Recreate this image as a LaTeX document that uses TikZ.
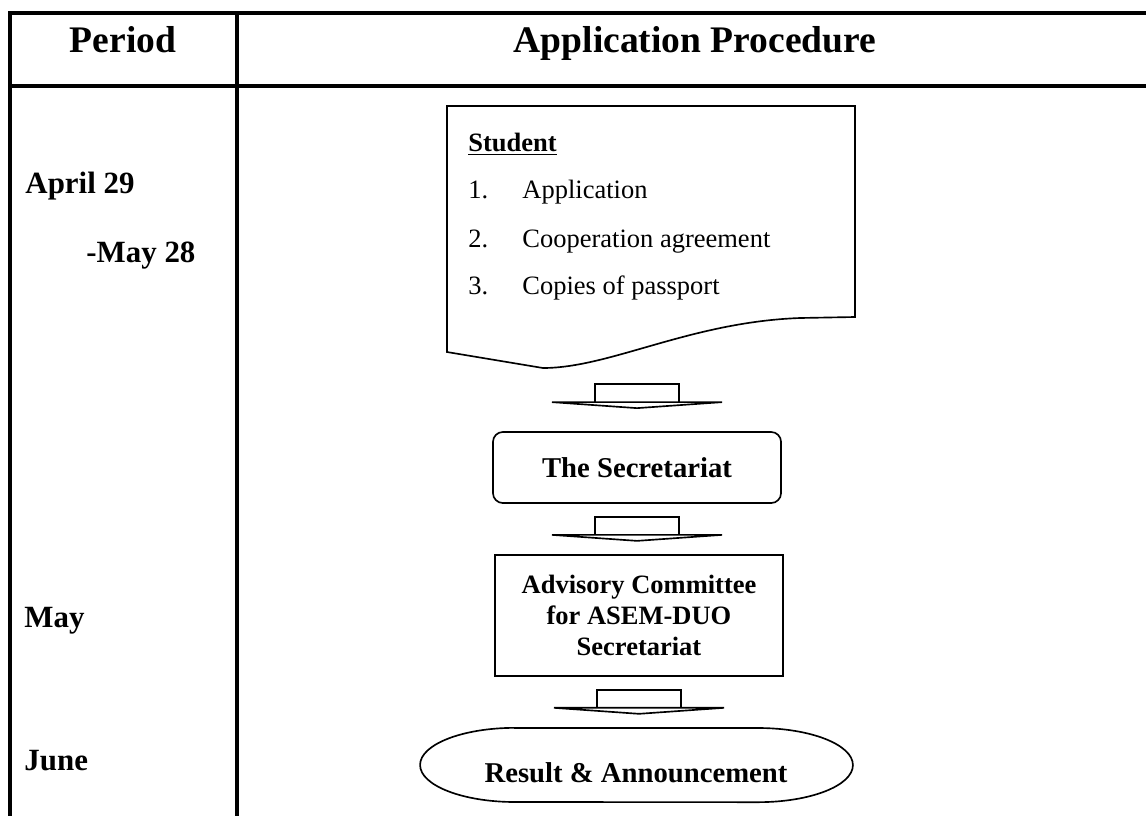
\documentclass[tikz,border=0pt]{standalone}
\usepackage{fontspec}
\setmainfont{Liberation Serif}
\usetikzlibrary{calc}
\usetikzlibrary{positioning}

\tikzset{
  grid line/.style={line width=1.4pt},
  shape line/.style={line width=0.75pt},
  blockarrow/.style={line width=0.75pt, line join=miter},
  flowbox/.style={draw, shape line, inner sep=0pt, align=center, font=\fontsize{13}{15}\selectfont\bfseries},
  datelabel/.style={anchor=base west, inner sep=0pt, font=\fontsize{14}{16}\selectfont\bfseries},
  headlabel/.style={anchor=base, inner sep=0pt, font=\fontsize{17}{20}\selectfont\bfseries},
  itemlabel/.style={anchor=base west, inner sep=0pt, font=\fontsize{12}{14}\selectfont}
}

\begin{document}
\begin{tikzpicture}[x=0.453pt, y=-0.453pt]
  \useasboundingbox (0,0) rectangle (1146,816);
  % table
  \draw[grid line] (1146,13) -- (10,13) -- (10,816);
  \draw[grid line] (10,86) -- (1146,86);
  \draw[grid line] (237,13) -- (237,816);
  \node[headlabel] (period) at (123,52) {Period};
  \node[headlabel] (proc) at (695,52) {Application Procedure};

  % periods
  \node[datelabel] (apr) at (25,193) {April 29};
  \node[datelabel] (maytwo) at (86,262) {-May 28};
  \node[datelabel] (may) at (24,627) {May};
  \node[datelabel] (june) at (24,770) {June};

  % student document
  \draw[shape line] (447,106) -- (855,106) -- (855,317) -- (800,318)
    .. controls (690,322) and (610,368) .. (543,368) -- (447,352) -- cycle;
  \node[itemlabel, font=\fontsize{12}{14}\selectfont\bfseries] (stu) at (468,151) {\underline{Student}};
  \foreach \n/\t/\y in {1/Application/198, 2/Cooperation agreement/247, 3/Copies of passport/294} {
    \node[itemlabel] (num\n) at (468,\y) {\n.};
    \node[itemlabel] (item\n) at (522,\y) {\t};
  }

  % flow
  \node[flowbox, rounded corners=4.5pt, minimum width=130.5pt, minimum height=32.2pt] (sec) at (637,467.5) {The Secretariat};
  \node[flowbox, font=\fontsize{12}{14}\selectfont\bfseries, minimum width=130.5pt, minimum height=54.8pt] (adv) at (639,615.5) {Advisory Committee\\for ASEM-DUO\\Secretariat};
  \node[inner sep=0pt, font=\fontsize{13}{15}\selectfont\bfseries] (res) at (636,773) {Result \& Announcement};
  \draw[shape line] ($(res)+(-121,-45)$) -- ($(res)+(122,-45)$)
    arc[start angle=90, end angle=-90, x radius=43pt, y radius=16.8pt]
    -- ($(res)+(-121,29)$)
    arc[start angle=270, end angle=90, x radius=43pt, y radius=16.8pt] -- cycle;

  % arrows
  \coordinate (a1) at ($(sec.north)+(0,-47)$);
  \coordinate (a2) at ($(sec.south)+(0,13)$);
  \coordinate (a3) at ($(adv.south)+(0,13)$);
  \foreach \a in {a1,a2,a3} {
    \begin{scope}[shift={(\a)}]
      \draw[blockarrow] (-42,18) -- (-42,0) -- (42,0) -- (42,18);
      \draw[blockarrow] (-85,18) -- (85,18) -- (0,24) -- cycle;
    \end{scope}
  }
\end{tikzpicture}
\end{document}
